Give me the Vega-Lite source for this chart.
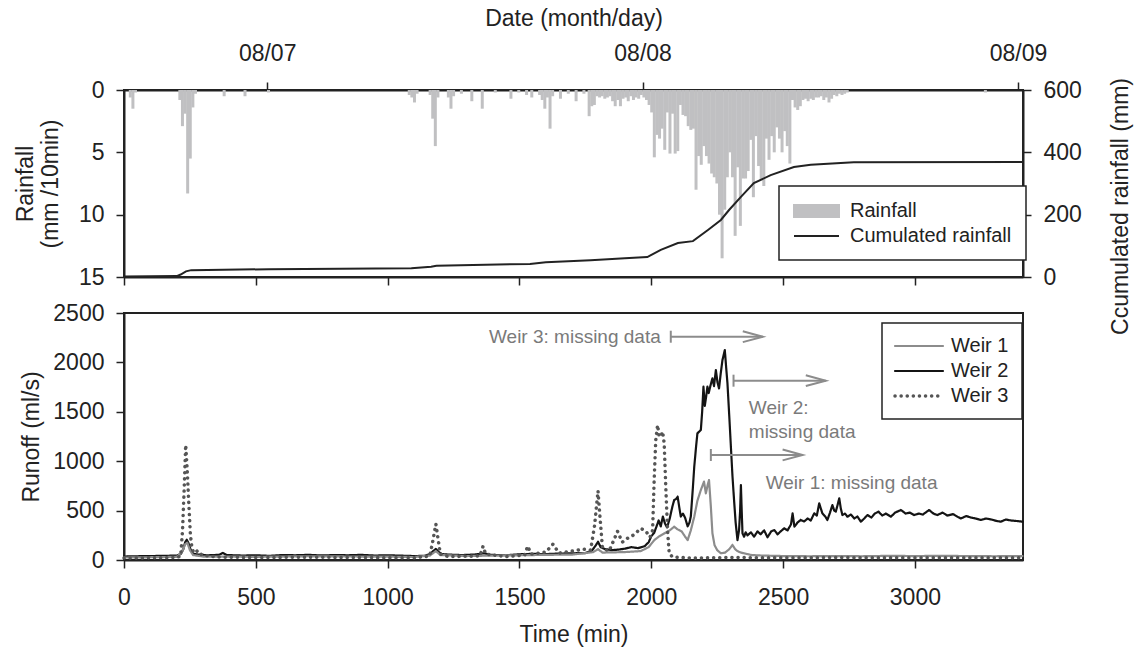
{
  "$schema": "https://vega.github.io/schema/vega-lite/v6.json",
  "background": "white",
  "padding": {"left": 12, "top": 6, "right": 4, "bottom": 4},
  "bounds": "flush",
  "spacing": 36,
  "config": {
    "font": "Liberation Sans",
    "view": {"stroke": "#222", "strokeWidth": 2},
    "axis": {"labelFont": "Liberation Sans", "labelFontSize": 23, "labelColor": "#222", "titleFont": "Liberation Sans", "titleFontSize": 23, "titleFontWeight": "normal", "titleColor": "#222", "domainColor": "#222", "domainWidth": 2, "tickColor": "#222", "tickWidth": 1.5, "tickSize": 8, "grid": false, "labelFlush": false, "labelOverlap": false, "labelPadding": 12},
    "legend": {"labelFont": "Liberation Sans", "labelFontSize": 20, "labelColor": "#222", "strokeColor": "#222", "fillColor": "white", "title": null, "labelLimit": 400}
  },
  "datasets": {
    "rain": [
      {"t":5,"r":0.6},{"t":15,"r":1.5},{"t":25,"r":0.2},{"t":195,"r":0.8},{"t":205,"r":2.9},{"t":215,"r":1.9},{"t":225,"r":8.3},{"t":235,"r":5.5},{"t":245,"r":1.4},{"t":255,"r":0.3},{"t":365,"r":0.5},{"t":445,"r":0.5},{"t":535,"r":0.2},
      {"t":1075,"r":0.4},{"t":1085,"r":0.6},{"t":1095,"r":1.0},{"t":1105,"r":0.3},{"t":1155,"r":0.4},{"t":1165,"r":2.3},{"t":1175,"r":4.5},{"t":1185,"r":0.6},{"t":1225,"r":0.6},{"t":1235,"r":1.5},{"t":1245,"r":0.5},{"t":1275,"r":0.3},{"t":1315,"r":0.9},{"t":1355,"r":1.5},{"t":1405,"r":0.2},{"t":1465,"r":0.7},{"t":1495,"r":0.2},{"t":1525,"r":0.4},{"t":1545,"r":0.6},{"t":1575,"r":0.4},{"t":1585,"r":0.8},{"t":1595,"r":1.5},{"t":1605,"r":0.6},{"t":1615,"r":3.1},{"t":1625,"r":0.5},{"t":1655,"r":0.7},{"t":1685,"r":0.3},{"t":1715,"r":0.9},{"t":1745,"r":0.3},{"t":1765,"r":2.1},{"t":1775,"r":1.3},{"t":1785,"r":1.2},{"t":1795,"r":0.5},{"t":1805,"r":0.6},{"t":1815,"r":0.5},{"t":1825,"r":0.7},{"t":1835,"r":0.6},{"t":1845,"r":0.5},{"t":1855,"r":0.9},{"t":1865,"r":1.3},{"t":1875,"r":0.8},{"t":1885,"r":1.3},{"t":1895,"r":0.7},{"t":1905,"r":0.6},{"t":1915,"r":0.9},{"t":1925,"r":0.5},{"t":1935,"r":0.8},{"t":1945,"r":0.6},{"t":1955,"r":0.7},{"t":1965,"r":0.4},{"t":1975,"r":0.6},{"t":1985,"r":0.8},
      {"t":1995,"r":1.2},{"t":2005,"r":1.8},{"t":2015,"r":5.4},{"t":2025,"r":3.6},{"t":2035,"r":3.9},{"t":2045,"r":3.1},{"t":2055,"r":4.8},{"t":2065,"r":1.8},{"t":2075,"r":5.1},{"t":2085,"r":1.9},{"t":2095,"r":5.1},{"t":2105,"r":4.9},{"t":2115,"r":1.2},{"t":2125,"r":2.0},{"t":2135,"r":2.1},{"t":2145,"r":2.9},{"t":2155,"r":3.2},{"t":2165,"r":3.1},{"t":2175,"r":8.0},{"t":2185,"r":5.3},{"t":2195,"r":6.0},{"t":2205,"r":4.5},{"t":2215,"r":5.3},{"t":2225,"r":5.9},{"t":2235,"r":6.7},{"t":2245,"r":7.0},{"t":2255,"r":7.5},{"t":2265,"r":10.0},{"t":2275,"r":13.5},{"t":2285,"r":9.6},{"t":2295,"r":7.0},{"t":2305,"r":5.0},{"t":2315,"r":7.0},{"t":2325,"r":11.7},{"t":2335,"r":6.2},{"t":2345,"r":10.9},{"t":2355,"r":7.1},{"t":2365,"r":7.1},{"t":2375,"r":6.5},{"t":2385,"r":4.0},{"t":2395,"r":8.6},{"t":2405,"r":3.7},{"t":2415,"r":6.1},{"t":2425,"r":7.2},{"t":2435,"r":7.7},{"t":2445,"r":3.9},{"t":2455,"r":5.6},{"t":2465,"r":3.7},{"t":2475,"r":5.0},{"t":2485,"r":3.0},{"t":2495,"r":3.9},{"t":2505,"r":5.0},{"t":2515,"r":3.3},{"t":2525,"r":4.5},{"t":2535,"r":5.9},{"t":2545,"r":0.8},{"t":2555,"r":1.4},{"t":2565,"r":1.6},{"t":2575,"r":1.3},{"t":2585,"r":0.8},{"t":2595,"r":0.7},{"t":2605,"r":0.9},{"t":2615,"r":0.7},{"t":2625,"r":0.8},{"t":2635,"r":0.6},{"t":2645,"r":0.6},{"t":2655,"r":0.5},{"t":2665,"r":0.8},{"t":2675,"r":0.6},{"t":2685,"r":1.0},{"t":2695,"r":0.7},{"t":2705,"r":0.4},{"t":2715,"r":0.5},{"t":2725,"r":0.3},{"t":2735,"r":0.4},{"t":2745,"r":0.3},{"t":2755,"r":0.2},{"t":3285,"r":0.2}
    ],
    "cum": [
      {"t":0,"c":2},{"t":200,"c":3},{"t":215,"c":8},{"t":235,"c":18},{"t":255,"c":22},{"t":550,"c":25},{"t":1090,"c":28},{"t":1165,"c":33},{"t":1185,"c":36},{"t":1540,"c":42},{"t":1600,"c":47},{"t":1770,"c":54},{"t":1900,"c":60},{"t":1985,"c":64},{"t":2036,"c":87},{"t":2101,"c":109},{"t":2158,"c":115},{"t":2215,"c":151},{"t":2264,"c":183},{"t":2295,"c":215},{"t":2340,"c":257},{"t":2389,"c":301},{"t":2453,"c":327},{"t":2541,"c":353},{"t":2605,"c":360},{"t":2719,"c":366},{"t":2768,"c":368},{"t":3410,"c":369}
    ],
    "runoff": [
      {"t":0,"q":35,"weir":"Weir 2"},{"t":50,"q":38,"weir":"Weir 2"},{"t":100,"q":40,"weir":"Weir 2"},{"t":150,"q":42,"weir":"Weir 2"},{"t":200,"q":45,"weir":"Weir 2"},{"t":215,"q":60,"weir":"Weir 2"},{"t":225,"q":110,"weir":"Weir 2"},{"t":232,"q":180,"weir":"Weir 2"},{"t":238,"q":205,"weir":"Weir 2"},{"t":244,"q":175,"weir":"Weir 2"},{"t":252,"q":110,"weir":"Weir 2"},{"t":262,"q":65,"weir":"Weir 2"},{"t":280,"q":55,"weir":"Weir 2"},{"t":320,"q":48,"weir":"Weir 2"},{"t":360,"q":52,"weir":"Weir 2"},{"t":375,"q":72,"weir":"Weir 2"},{"t":390,"q":50,"weir":"Weir 2"},{"t":450,"q":45,"weir":"Weir 2"},{"t":500,"q":48,"weir":"Weir 2"},{"t":550,"q":42,"weir":"Weir 2"},{"t":600,"q":50,"weir":"Weir 2"},{"t":650,"q":48,"weir":"Weir 2"},{"t":700,"q":52,"weir":"Weir 2"},{"t":750,"q":46,"weir":"Weir 2"},{"t":800,"q":50,"weir":"Weir 2"},{"t":850,"q":48,"weir":"Weir 2"},{"t":900,"q":52,"weir":"Weir 2"},{"t":950,"q":45,"weir":"Weir 2"},{"t":1000,"q":48,"weir":"Weir 2"},{"t":1050,"q":44,"weir":"Weir 2"},{"t":1100,"q":40,"weir":"Weir 2"},{"t":1140,"q":42,"weir":"Weir 2"},{"t":1160,"q":60,"weir":"Weir 2"},{"t":1175,"q":95,"weir":"Weir 2"},{"t":1183,"q":112,"weir":"Weir 2"},{"t":1192,"q":85,"weir":"Weir 2"},{"t":1205,"q":60,"weir":"Weir 2"},{"t":1230,"q":55,"weir":"Weir 2"},{"t":1280,"q":50,"weir":"Weir 2"},{"t":1330,"q":55,"weir":"Weir 2"},{"t":1365,"q":68,"weir":"Weir 2"},{"t":1390,"q":52,"weir":"Weir 2"},{"t":1450,"q":48,"weir":"Weir 2"},{"t":1500,"q":58,"weir":"Weir 2"},{"t":1550,"q":62,"weir":"Weir 2"},{"t":1600,"q":60,"weir":"Weir 2"},{"t":1650,"q":65,"weir":"Weir 2"},{"t":1700,"q":68,"weir":"Weir 2"},{"t":1750,"q":70,"weir":"Weir 2"},{"t":1775,"q":95,"weir":"Weir 2"},{"t":1790,"q":150,"weir":"Weir 2"},{"t":1798,"q":185,"weir":"Weir 2"},{"t":1808,"q":130,"weir":"Weir 2"},{"t":1825,"q":110,"weir":"Weir 2"},{"t":1850,"q":100,"weir":"Weir 2"},{"t":1875,"q":105,"weir":"Weir 2"},{"t":1900,"q":115,"weir":"Weir 2"},{"t":1925,"q":130,"weir":"Weir 2"},{"t":1950,"q":120,"weir":"Weir 2"},{"t":1975,"q":140,"weir":"Weir 2"},{"t":1990,"q":180,"weir":"Weir 2"},{"t":2000,"q":240,"weir":"Weir 2"},{"t":2011,"q":275,"weir":"Weir 2"},{"t":2020,"q":340,"weir":"Weir 2"},{"t":2028,"q":400,"weir":"Weir 2"},{"t":2036,"q":340,"weir":"Weir 2"},{"t":2044,"q":440,"weir":"Weir 2"},{"t":2052,"q":370,"weir":"Weir 2"},{"t":2060,"q":330,"weir":"Weir 2"},{"t":2070,"q":420,"weir":"Weir 2"},{"t":2080,"q":540,"weir":"Weir 2"},{"t":2087,"q":607,"weir":"Weir 2"},{"t":2095,"q":620,"weir":"Weir 2"},{"t":2100,"q":640,"weir":"Weir 2"},{"t":2107,"q":520,"weir":"Weir 2"},{"t":2112,"q":440,"weir":"Weir 2"},{"t":2120,"q":470,"weir":"Weir 2"},{"t":2128,"q":430,"weir":"Weir 2"},{"t":2138,"q":340,"weir":"Weir 2"},{"t":2145,"q":380,"weir":"Weir 2"},{"t":2150,"q":440,"weir":"Weir 2"},{"t":2157,"q":700,"weir":"Weir 2"},{"t":2163,"q":944,"weir":"Weir 2"},{"t":2170,"q":1150,"weir":"Weir 2"},{"t":2175,"q":1282,"weir":"Weir 2"},{"t":2182,"q":1300,"weir":"Weir 2"},{"t":2188,"q":1316,"weir":"Weir 2"},{"t":2193,"q":1500,"weir":"Weir 2"},{"t":2198,"q":1754,"weir":"Weir 2"},{"t":2203,"q":1560,"weir":"Weir 2"},{"t":2208,"q":1650,"weir":"Weir 2"},{"t":2213,"q":1754,"weir":"Weir 2"},{"t":2218,"q":1690,"weir":"Weir 2"},{"t":2224,"q":1760,"weir":"Weir 2"},{"t":2232,"q":1839,"weir":"Weir 2"},{"t":2238,"q":1760,"weir":"Weir 2"},{"t":2245,"q":1923,"weir":"Weir 2"},{"t":2251,"q":1800,"weir":"Weir 2"},{"t":2257,"q":1737,"weir":"Weir 2"},{"t":2264,"q":1900,"weir":"Weir 2"},{"t":2270,"q":2024,"weir":"Weir 2"},{"t":2275,"q":2080,"weir":"Weir 2"},{"t":2279,"q":2125,"weir":"Weir 2"},{"t":2284,"q":1950,"weir":"Weir 2"},{"t":2289,"q":1788,"weir":"Weir 2"},{"t":2296,"q":1450,"weir":"Weir 2"},{"t":2302,"q":1147,"weir":"Weir 2"},{"t":2308,"q":850,"weir":"Weir 2"},{"t":2314,"q":607,"weir":"Weir 2"},{"t":2320,"q":380,"weir":"Weir 2"},{"t":2327,"q":202,"weir":"Weir 2"},{"t":2333,"q":303,"weir":"Weir 2"},{"t":2337,"q":500,"weir":"Weir 2"},{"t":2340,"q":759,"weir":"Weir 2"},{"t":2343,"q":500,"weir":"Weir 2"},{"t":2346,"q":270,"weir":"Weir 2"},{"t":2352,"q":236,"weir":"Weir 2"},{"t":2358,"q":280,"weir":"Weir 2"},{"t":2365,"q":250,"weir":"Weir 2"},{"t":2378,"q":280,"weir":"Weir 2"},{"t":2390,"q":236,"weir":"Weir 2"},{"t":2403,"q":290,"weir":"Weir 2"},{"t":2415,"q":260,"weir":"Weir 2"},{"t":2428,"q":300,"weir":"Weir 2"},{"t":2441,"q":230,"weir":"Weir 2"},{"t":2455,"q":290,"weir":"Weir 2"},{"t":2467,"q":303,"weir":"Weir 2"},{"t":2479,"q":260,"weir":"Weir 2"},{"t":2491,"q":290,"weir":"Weir 2"},{"t":2504,"q":320,"weir":"Weir 2"},{"t":2517,"q":300,"weir":"Weir 2"},{"t":2530,"q":360,"weir":"Weir 2"},{"t":2536,"q":472,"weir":"Weir 2"},{"t":2543,"q":337,"weir":"Weir 2"},{"t":2555,"q":380,"weir":"Weir 2"},{"t":2567,"q":405,"weir":"Weir 2"},{"t":2580,"q":390,"weir":"Weir 2"},{"t":2593,"q":420,"weir":"Weir 2"},{"t":2605,"q":400,"weir":"Weir 2"},{"t":2618,"q":472,"weir":"Weir 2"},{"t":2628,"q":450,"weir":"Weir 2"},{"t":2637,"q":573,"weir":"Weir 2"},{"t":2649,"q":472,"weir":"Weir 2"},{"t":2660,"q":440,"weir":"Weir 2"},{"t":2668,"q":405,"weir":"Weir 2"},{"t":2678,"q":480,"weir":"Weir 2"},{"t":2687,"q":556,"weir":"Weir 2"},{"t":2694,"q":500,"weir":"Weir 2"},{"t":2700,"q":490,"weir":"Weir 2"},{"t":2707,"q":560,"weir":"Weir 2"},{"t":2713,"q":624,"weir":"Weir 2"},{"t":2719,"q":520,"weir":"Weir 2"},{"t":2725,"q":455,"weir":"Weir 2"},{"t":2735,"q":470,"weir":"Weir 2"},{"t":2744,"q":438,"weir":"Weir 2"},{"t":2757,"q":460,"weir":"Weir 2"},{"t":2770,"q":420,"weir":"Weir 2"},{"t":2782,"q":440,"weir":"Weir 2"},{"t":2795,"q":388,"weir":"Weir 2"},{"t":2808,"q":420,"weir":"Weir 2"},{"t":2820,"q":455,"weir":"Weir 2"},{"t":2835,"q":430,"weir":"Weir 2"},{"t":2848,"q":470,"weir":"Weir 2"},{"t":2862,"q":490,"weir":"Weir 2"},{"t":2876,"q":450,"weir":"Weir 2"},{"t":2890,"q":470,"weir":"Weir 2"},{"t":2909,"q":438,"weir":"Weir 2"},{"t":2925,"q":480,"weir":"Weir 2"},{"t":2947,"q":506,"weir":"Weir 2"},{"t":2965,"q":470,"weir":"Weir 2"},{"t":2980,"q":480,"weir":"Weir 2"},{"t":2997,"q":455,"weir":"Weir 2"},{"t":3015,"q":470,"weir":"Weir 2"},{"t":3030,"q":460,"weir":"Weir 2"},{"t":3054,"q":506,"weir":"Weir 2"},{"t":3070,"q":470,"weir":"Weir 2"},{"t":3085,"q":455,"weir":"Weir 2"},{"t":3105,"q":480,"weir":"Weir 2"},{"t":3123,"q":450,"weir":"Weir 2"},{"t":3145,"q":465,"weir":"Weir 2"},{"t":3160,"q":440,"weir":"Weir 2"},{"t":3174,"q":420,"weir":"Weir 2"},{"t":3195,"q":445,"weir":"Weir 2"},{"t":3212,"q":430,"weir":"Weir 2"},{"t":3230,"q":420,"weir":"Weir 2"},{"t":3250,"q":405,"weir":"Weir 2"},{"t":3270,"q":420,"weir":"Weir 2"},{"t":3290,"q":410,"weir":"Weir 2"},{"t":3310,"q":395,"weir":"Weir 2"},{"t":3326,"q":388,"weir":"Weir 2"},{"t":3345,"q":410,"weir":"Weir 2"},{"t":3364,"q":400,"weir":"Weir 2"},{"t":3385,"q":395,"weir":"Weir 2"},{"t":3408,"q":388,"weir":"Weir 2"},
      {"t":0,"q":25,"weir":"Weir 1"},{"t":100,"q":28,"weir":"Weir 1"},{"t":200,"q":32,"weir":"Weir 1"},{"t":220,"q":80,"weir":"Weir 1"},{"t":232,"q":160,"weir":"Weir 1"},{"t":240,"q":175,"weir":"Weir 1"},{"t":250,"q":100,"weir":"Weir 1"},{"t":262,"q":50,"weir":"Weir 1"},{"t":300,"q":35,"weir":"Weir 1"},{"t":400,"q":35,"weir":"Weir 1"},{"t":500,"q":32,"weir":"Weir 1"},{"t":600,"q":35,"weir":"Weir 1"},{"t":700,"q":38,"weir":"Weir 1"},{"t":800,"q":36,"weir":"Weir 1"},{"t":900,"q":35,"weir":"Weir 1"},{"t":1000,"q":34,"weir":"Weir 1"},{"t":1100,"q":30,"weir":"Weir 1"},{"t":1160,"q":45,"weir":"Weir 1"},{"t":1183,"q":90,"weir":"Weir 1"},{"t":1200,"q":50,"weir":"Weir 1"},{"t":1300,"q":40,"weir":"Weir 1"},{"t":1400,"q":45,"weir":"Weir 1"},{"t":1500,"q":48,"weir":"Weir 1"},{"t":1600,"q":52,"weir":"Weir 1"},{"t":1700,"q":55,"weir":"Weir 1"},{"t":1780,"q":80,"weir":"Weir 1"},{"t":1798,"q":110,"weir":"Weir 1"},{"t":1815,"q":75,"weir":"Weir 1"},{"t":1900,"q":80,"weir":"Weir 1"},{"t":1960,"q":90,"weir":"Weir 1"},{"t":1990,"q":130,"weir":"Weir 1"},{"t":2011,"q":200,"weir":"Weir 1"},{"t":2030,"q":240,"weir":"Weir 1"},{"t":2050,"q":270,"weir":"Weir 1"},{"t":2070,"q":300,"weir":"Weir 1"},{"t":2087,"q":337,"weir":"Weir 1"},{"t":2100,"q":310,"weir":"Weir 1"},{"t":2115,"q":290,"weir":"Weir 1"},{"t":2130,"q":230,"weir":"Weir 1"},{"t":2138,"q":202,"weir":"Weir 1"},{"t":2150,"q":300,"weir":"Weir 1"},{"t":2163,"q":438,"weir":"Weir 1"},{"t":2175,"q":600,"weir":"Weir 1"},{"t":2188,"q":708,"weir":"Weir 1"},{"t":2200,"q":793,"weir":"Weir 1"},{"t":2207,"q":675,"weir":"Weir 1"},{"t":2214,"q":760,"weir":"Weir 1"},{"t":2219,"q":809,"weir":"Weir 1"},{"t":2226,"q":540,"weir":"Weir 1"},{"t":2232,"q":270,"weir":"Weir 1"},{"t":2240,"q":150,"weir":"Weir 1"},{"t":2250,"q":100,"weir":"Weir 1"},{"t":2264,"q":68,"weir":"Weir 1"},{"t":2280,"q":75,"weir":"Weir 1"},{"t":2296,"q":110,"weir":"Weir 1"},{"t":2308,"q":152,"weir":"Weir 1"},{"t":2318,"q":110,"weir":"Weir 1"},{"t":2327,"q":90,"weir":"Weir 1"},{"t":2340,"q":75,"weir":"Weir 1"},{"t":2352,"q":68,"weir":"Weir 1"},{"t":2380,"q":50,"weir":"Weir 1"},{"t":2420,"q":45,"weir":"Weir 1"},{"t":2500,"q":40,"weir":"Weir 1"},{"t":2600,"q":38,"weir":"Weir 1"},{"t":2700,"q":40,"weir":"Weir 1"},{"t":2800,"q":38,"weir":"Weir 1"},{"t":2900,"q":42,"weir":"Weir 1"},{"t":3000,"q":40,"weir":"Weir 1"},{"t":3100,"q":42,"weir":"Weir 1"},{"t":3200,"q":40,"weir":"Weir 1"},{"t":3300,"q":38,"weir":"Weir 1"},{"t":3408,"q":40,"weir":"Weir 1"},
      {"t":0,"q":20,"weir":"Weir 3"},{"t":100,"q":22,"weir":"Weir 3"},{"t":200,"q":25,"weir":"Weir 3"},{"t":215,"q":40,"weir":"Weir 3"},{"t":222,"q":300,"weir":"Weir 3"},{"t":228,"q":700,"weir":"Weir 3"},{"t":234,"q":1165,"weir":"Weir 3"},{"t":240,"q":900,"weir":"Weir 3"},{"t":246,"q":560,"weir":"Weir 3"},{"t":252,"q":250,"weir":"Weir 3"},{"t":258,"q":120,"weir":"Weir 3"},{"t":265,"q":70,"weir":"Weir 3"},{"t":280,"q":95,"weir":"Weir 3"},{"t":295,"q":50,"weir":"Weir 3"},{"t":350,"q":30,"weir":"Weir 3"},{"t":500,"q":25,"weir":"Weir 3"},{"t":700,"q":28,"weir":"Weir 3"},{"t":900,"q":25,"weir":"Weir 3"},{"t":1100,"q":22,"weir":"Weir 3"},{"t":1160,"q":40,"weir":"Weir 3"},{"t":1172,"q":200,"weir":"Weir 3"},{"t":1183,"q":364,"weir":"Weir 3"},{"t":1192,"q":200,"weir":"Weir 3"},{"t":1200,"q":60,"weir":"Weir 3"},{"t":1230,"q":35,"weir":"Weir 3"},{"t":1350,"q":40,"weir":"Weir 3"},{"t":1362,"q":140,"weir":"Weir 3"},{"t":1372,"q":60,"weir":"Weir 3"},{"t":1450,"q":35,"weir":"Weir 3"},{"t":1520,"q":50,"weir":"Weir 3"},{"t":1531,"q":140,"weir":"Weir 3"},{"t":1545,"q":60,"weir":"Weir 3"},{"t":1600,"q":80,"weir":"Weir 3"},{"t":1627,"q":160,"weir":"Weir 3"},{"t":1650,"q":70,"weir":"Weir 3"},{"t":1700,"q":90,"weir":"Weir 3"},{"t":1740,"q":110,"weir":"Weir 3"},{"t":1770,"q":100,"weir":"Weir 3"},{"t":1785,"q":350,"weir":"Weir 3"},{"t":1798,"q":700,"weir":"Weir 3"},{"t":1805,"q":450,"weir":"Weir 3"},{"t":1815,"q":120,"weir":"Weir 3"},{"t":1840,"q":90,"weir":"Weir 3"},{"t":1872,"q":290,"weir":"Weir 3"},{"t":1890,"q":180,"weir":"Weir 3"},{"t":1910,"q":220,"weir":"Weir 3"},{"t":1934,"q":255,"weir":"Weir 3"},{"t":1960,"q":320,"weir":"Weir 3"},{"t":1980,"q":290,"weir":"Weir 3"},{"t":1995,"q":230,"weir":"Weir 3"},{"t":2005,"q":300,"weir":"Weir 3"},{"t":2011,"q":810,"weir":"Weir 3"},{"t":2017,"q":1214,"weir":"Weir 3"},{"t":2024,"q":1366,"weir":"Weir 3"},{"t":2030,"q":1250,"weir":"Weir 3"},{"t":2036,"q":1248,"weir":"Weir 3"},{"t":2043,"q":1300,"weir":"Weir 3"},{"t":2049,"q":1180,"weir":"Weir 3"},{"t":2055,"q":742,"weir":"Weir 3"},{"t":2062,"q":290,"weir":"Weir 3"},{"t":2068,"q":70,"weir":"Weir 3"},{"t":2080,"q":30,"weir":"Weir 3"},{"t":2150,"q":20,"weir":"Weir 3"},{"t":2300,"q":25,"weir":"Weir 3"},{"t":2500,"q":22,"weir":"Weir 3"},{"t":2700,"q":25,"weir":"Weir 3"},{"t":2900,"q":22,"weir":"Weir 3"},{"t":3100,"q":24,"weir":"Weir 3"},{"t":3300,"q":22,"weir":"Weir 3"},{"t":3408,"q":22,"weir":"Weir 3"}
    ],
    "arrows": [
      {"t0":2074,"t1":2423,"q":2260},
      {"t0":2312,"t1":2662,"q":1815},
      {"t0":2226,"t1":2574,"q":1063}
    ],
    "notesRight": [
      {"t":2036,"q":2260,"label":"Weir 3: missing data"}
    ],
    "notesLeft": [
      {"t":2370,"q":1538,"label":"Weir 2:"},
      {"t":2370,"q":1298,"label":"missing data"},
      {"t":2434,"q":782,"label":"Weir 1: missing data"}
    ]
  },
  "resolve": {"scale": {"x": "independent", "y": "independent", "color": "independent", "strokeDash": "independent"}, "legend": {"color": "independent", "strokeDash": "independent"}},
  "vconcat": [
    {
      "width": 899,
      "height": 187,
      "resolve": {"scale": {"x": "independent", "y": "independent"}},
      "layer": [
        {
          "data": {"name": "rain"},
          "mark": {"type": "bar", "orient": "vertical", "size": 3},
          "encoding": {
            "x": {"field": "t", "type": "quantitative", "scale": {"domain": [0, 3410], "nice": false, "zero": false},
              "axis": {"orient": "top", "values": [530, 1970, 3410], "labelExpr": "datum.value < 1000 ? '08/07' : (datum.value < 2500 ? '08/08' : '08/09')", "title": "Date (month/day)", "labelPadding": 17, "titlePadding": 12}},
            "y": {"field": "r", "type": "quantitative", "stack": null, "scale": {"domain": [0, 15], "reverse": true, "nice": false},
              "axis": {"orient": "left", "values": [0, 5, 10, 15], "format": "d", "title": ["Rainfall", "(mm /10min)"], "titleX": -99, "titleBaseline": "middle", "titleAlign": "center", "titleLineHeight": 25}},
            "color": {"datum": "Rainfall", "type": "nominal",
              "scale": {"domain": ["Rainfall", "Cumulated rainfall"], "range": ["#c0c0c2", "#222222"]},
              "legend": {"orient": "none", "legendX": 655, "legendY": 96, "title": null, "symbolSize": 400, "labelOffset": 35, "padding": 14, "rowPadding": 4, "labelLimit": 400,
                "encode": {
                  "symbols": {"update": {
                    "shape": {"signal": "datum.value === 'Rainfall' ? 'M-1,-0.6H3.5V0.6H-1Z' : 'M-1,0H3.5'"},
                    "fill": {"signal": "datum.value === 'Rainfall' ? '#c0c0c2' : 'transparent'"},
                    "stroke": {"signal": "datum.value === 'Rainfall' ? 'transparent' : '#222222'"},
                    "strokeWidth": {"value": 2},
                    "opacity": {"value": 1}
                  }},
                  "legend": {"update": {"strokeWidth": {"value": 1.5}}}
                }}}
          }
        },
        {
          "data": {"name": "cum"},
          "mark": {"type": "line", "strokeWidth": 2},
          "encoding": {
            "x": {"field": "t", "type": "quantitative", "scale": {"domain": [0, 3410], "nice": false, "zero": false},
              "axis": {"orient": "bottom", "values": [0, 500, 1000, 1500, 2000, 2500, 3000], "labels": false, "title": null}},
            "y": {"field": "c", "type": "quantitative", "scale": {"domain": [0, 600], "nice": false},
              "axis": {"orient": "right", "values": [0, 200, 400, 600], "format": "d", "title": "Ccumulated rainfall (mm)", "titleAngle": -90, "titleX": 97, "titleY": 116, "titleBaseline": "middle", "titleAlign": "center"}},
            "color": {"datum": "Cumulated rainfall", "type": "nominal"}
          }
        }
      ]
    },
    {
      "width": 899,
      "height": 247,
      "layer": [
        {
          "data": {"name": "runoff"},
          "mark": {"type": "line", "strokeCap": "round", "strokeJoin": "round"},
          "encoding": {
            "x": {"field": "t", "type": "quantitative", "scale": {"domain": [0, 3410], "nice": false, "zero": false},
              "axis": {"orient": "bottom", "values": [0, 500, 1000, 1500, 2000, 2500, 3000], "format": "d", "title": "Time (min)", "labelPadding": 18, "titlePadding": 14}},
            "y": {"field": "q", "type": "quantitative", "scale": {"domain": [0, 2500], "nice": false},
              "axis": {"orient": "left", "values": [0, 500, 1000, 1500, 2000, 2500], "format": "d", "title": "Runoff (ml/s)", "titleX": -93, "titleBaseline": "middle", "titleAlign": "center"}},
            "order": {"field": "t", "type": "quantitative"},
            "color": {"field": "weir", "type": "nominal",
              "scale": {"domain": ["Weir 1", "Weir 2", "Weir 3"], "range": ["#8c8c8c", "#141414", "#555555"]},
              "legend": {"orient": "none", "legendX": 758, "legendY": 10, "title": null, "symbolSize": 400, "labelOffset": 36, "padding": 13, "rowPadding": 5,
                "encode": {
                  "symbols": {"update": {
                    "shape": {"value": "M-1,0H3.8"},
                    "fill": {"value": "transparent"},
                    "strokeWidth": {"signal": "datum.value === 'Weir 3' ? 3.5 : 2.2"},
                    "strokeCap": {"value": "round"},
                    "opacity": {"value": 1}
                  }},
                  "legend": {"update": {"strokeWidth": {"value": 1.5}}}
                }}},
            "strokeDash": {"field": "weir", "type": "nominal",
              "scale": {"domain": ["Weir 1", "Weir 2", "Weir 3"], "range": [[1, 0], [1, 0], [0.1, 6]]}},
            "strokeWidth": {"condition": {"test": "datum.weir === 'Weir 3'", "value": 3.5}, "value": 2.2}
          }
        },
        {
          "data": {"name": "arrows"},
          "mark": {"type": "rule", "color": "#8c8c8c", "strokeWidth": 2},
          "encoding": {
            "x": {"field": "t0", "type": "quantitative"},
            "x2": {"field": "t1"},
            "y": {"field": "q", "type": "quantitative"}
          }
        },
        {
          "data": {"name": "arrows"},
          "mark": {"type": "point", "shape": "M0,-1V1", "size": 144, "filled": false, "color": "#8c8c8c", "strokeWidth": 2, "opacity": 1},
          "encoding": {
            "x": {"field": "t0", "type": "quantitative"},
            "y": {"field": "q", "type": "quantitative"}
          }
        },
        {
          "data": {"name": "arrows"},
          "mark": {"type": "point", "shape": "M-1,-0.27L0,0L-1,0.27", "size": 1600, "filled": false, "color": "#8c8c8c", "strokeWidth": 2, "opacity": 1},
          "encoding": {
            "x": {"field": "t1", "type": "quantitative"},
            "y": {"field": "q", "type": "quantitative"}
          }
        },
        {
          "data": {"name": "notesRight"},
          "mark": {"type": "text", "align": "right", "baseline": "middle", "fontSize": 19, "color": "#7a7a7a", "font": "Liberation Sans"},
          "encoding": {
            "x": {"field": "t", "type": "quantitative"},
            "y": {"field": "q", "type": "quantitative"},
            "text": {"field": "label"}
          }
        },
        {
          "data": {"name": "notesLeft"},
          "mark": {"type": "text", "align": "left", "baseline": "middle", "fontSize": 19, "color": "#7a7a7a", "font": "Liberation Sans"},
          "encoding": {
            "x": {"field": "t", "type": "quantitative"},
            "y": {"field": "q", "type": "quantitative"},
            "text": {"field": "label"}
          }
        }
      ]
    }
  ]
}
